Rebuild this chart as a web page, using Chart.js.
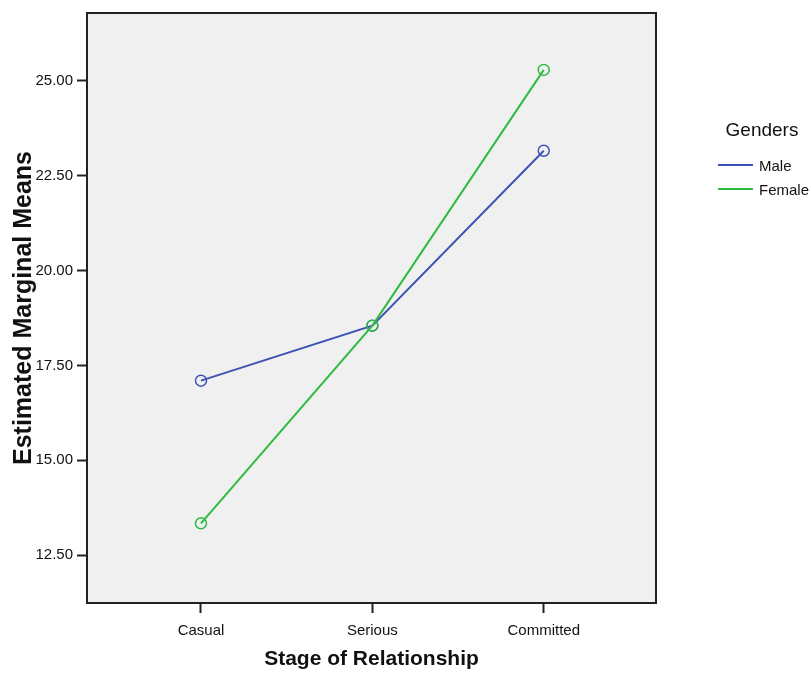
<!DOCTYPE html>
<html>
<head>
<meta charset="utf-8">
<script src="https://cdn.jsdelivr.net/npm/chart.js@4"></script>
<style>
  body { margin: 0; background: #fff; }
</style>
</head>
<body>
<canvas id="chart" width="811" height="675"></canvas>
<script>
const stages = ['Casual', 'Serious', 'Committed'];
const maleMeans = [17.10, 18.55, 23.16];
const femaleMeans = [13.34, 18.55, 25.29];
const yTicks = [12.5, 15, 17.5, 20, 22.5, 25];

const BLUE = '#3c53b4';
const GREEN = '#2fbb3f';
const FONT = "'Liberation Sans', Arial, sans-serif";

// plot frame + grey panel, as SPSS draws it
const framePlugin = {
  id: 'frame',
  beforeDraw(chart) {
    const { ctx, chartArea: a } = chart;
    ctx.save();
    ctx.fillStyle = '#f0f0f0';
    ctx.fillRect(a.left, a.top, a.right - a.left, a.bottom - a.top);
    ctx.restore();
  },
  afterDraw(chart) {
    const { ctx, chartArea: a } = chart;
    ctx.save();
    ctx.strokeStyle = '#222';
    ctx.lineWidth = 2;
    ctx.strokeRect(a.left, a.top, a.right - a.left, a.bottom - a.top);
    ctx.restore();
  }
};

// legend to the right with a title
const legendPlugin = {
  id: 'sideLegend',
  afterDraw(chart) {
    const ctx = chart.ctx;
    ctx.save();
    ctx.fillStyle = '#111';
    ctx.textBaseline = 'middle';
    ctx.textAlign = 'center';
    ctx.font = '19px ' + FONT;
    ctx.fillText('Genders', 762, 131);
    ctx.textAlign = 'left';
    ctx.font = '15px ' + FONT;
    chart.data.datasets.forEach((ds, i) => {
      const y = 165 + i * 24;
      ctx.strokeStyle = ds.borderColor;
      ctx.lineWidth = 2;
      ctx.beginPath();
      ctx.moveTo(718, y);
      ctx.lineTo(753, y);
      ctx.stroke();
      ctx.fillText(ds.label, 759, y + 2);
    });
    ctx.restore();
  }
};

new Chart(document.getElementById('chart'), {
  type: 'line',
  data: {
    datasets: [
      {
        label: 'Male',
        data: stages.map((s, i) => ({ x: i, y: maleMeans[i] })),
        borderColor: BLUE,
        pointBorderColor: BLUE,
        order: 1
      },
      {
        label: 'Female',
        data: stages.map((s, i) => ({ x: i, y: femaleMeans[i] })),
        borderColor: GREEN,
        pointBorderColor: GREEN,
        order: 0
      }
    ]
  },
  options: {
    responsive: false,
    animation: false,
    layout: { padding: { left: 0, top: 12, right: 155, bottom: 0 } },
    elements: {
      line: { borderWidth: 2, tension: 0 },
      point: { radius: 5.5, borderWidth: 1.5, backgroundColor: 'rgba(0,0,0,0)', hoverRadius: 5.5 }
    },
    plugins: {
      legend: { display: false },
      tooltip: { enabled: false }
    },
    scales: {
      x: {
        type: 'linear',
        min: -0.665,
        max: 2.655,
        afterBuildTicks: s => { s.ticks = stages.map((c, i) => ({ value: i })); },
        afterFit: s => { s.height = 72; },
        border: { display: false },
        grid: { drawOnChartArea: false, tickLength: 10, tickWidth: 2, tickColor: '#222' },
        ticks: {
          padding: 9,
          color: '#111',
          font: { family: FONT, size: 15 },
          callback: v => stages[v]
        },
        title: {
          display: true,
          text: 'Stage of Relationship',
          color: '#111',
          font: { family: FONT, size: 21, weight: 'bold' },
          padding: { top: 0, bottom: 3 }
        }
      },
      y: {
        min: 11.24,
        max: 26.79,
        afterBuildTicks: s => { s.ticks = yTicks.map(v => ({ value: v })); },
        afterFit: s => { s.width = 87; },
        border: { display: false },
        grid: { drawOnChartArea: false, tickLength: 10, tickWidth: 2, tickColor: '#222' },
        ticks: {
          padding: 4,
          color: '#111',
          font: { family: FONT, size: 15 },
          callback: v => Number(v).toFixed(2)
        },
        title: {
          display: true,
          text: 'Estimated Marginal Means',
          color: '#111',
          font: { family: FONT, size: 25, weight: 'bold' },
          padding: { top: 9, bottom: 0 }
        }
      }
    }
  },
  plugins: [framePlugin, legendPlugin]
});
</script>
</body>
</html>
